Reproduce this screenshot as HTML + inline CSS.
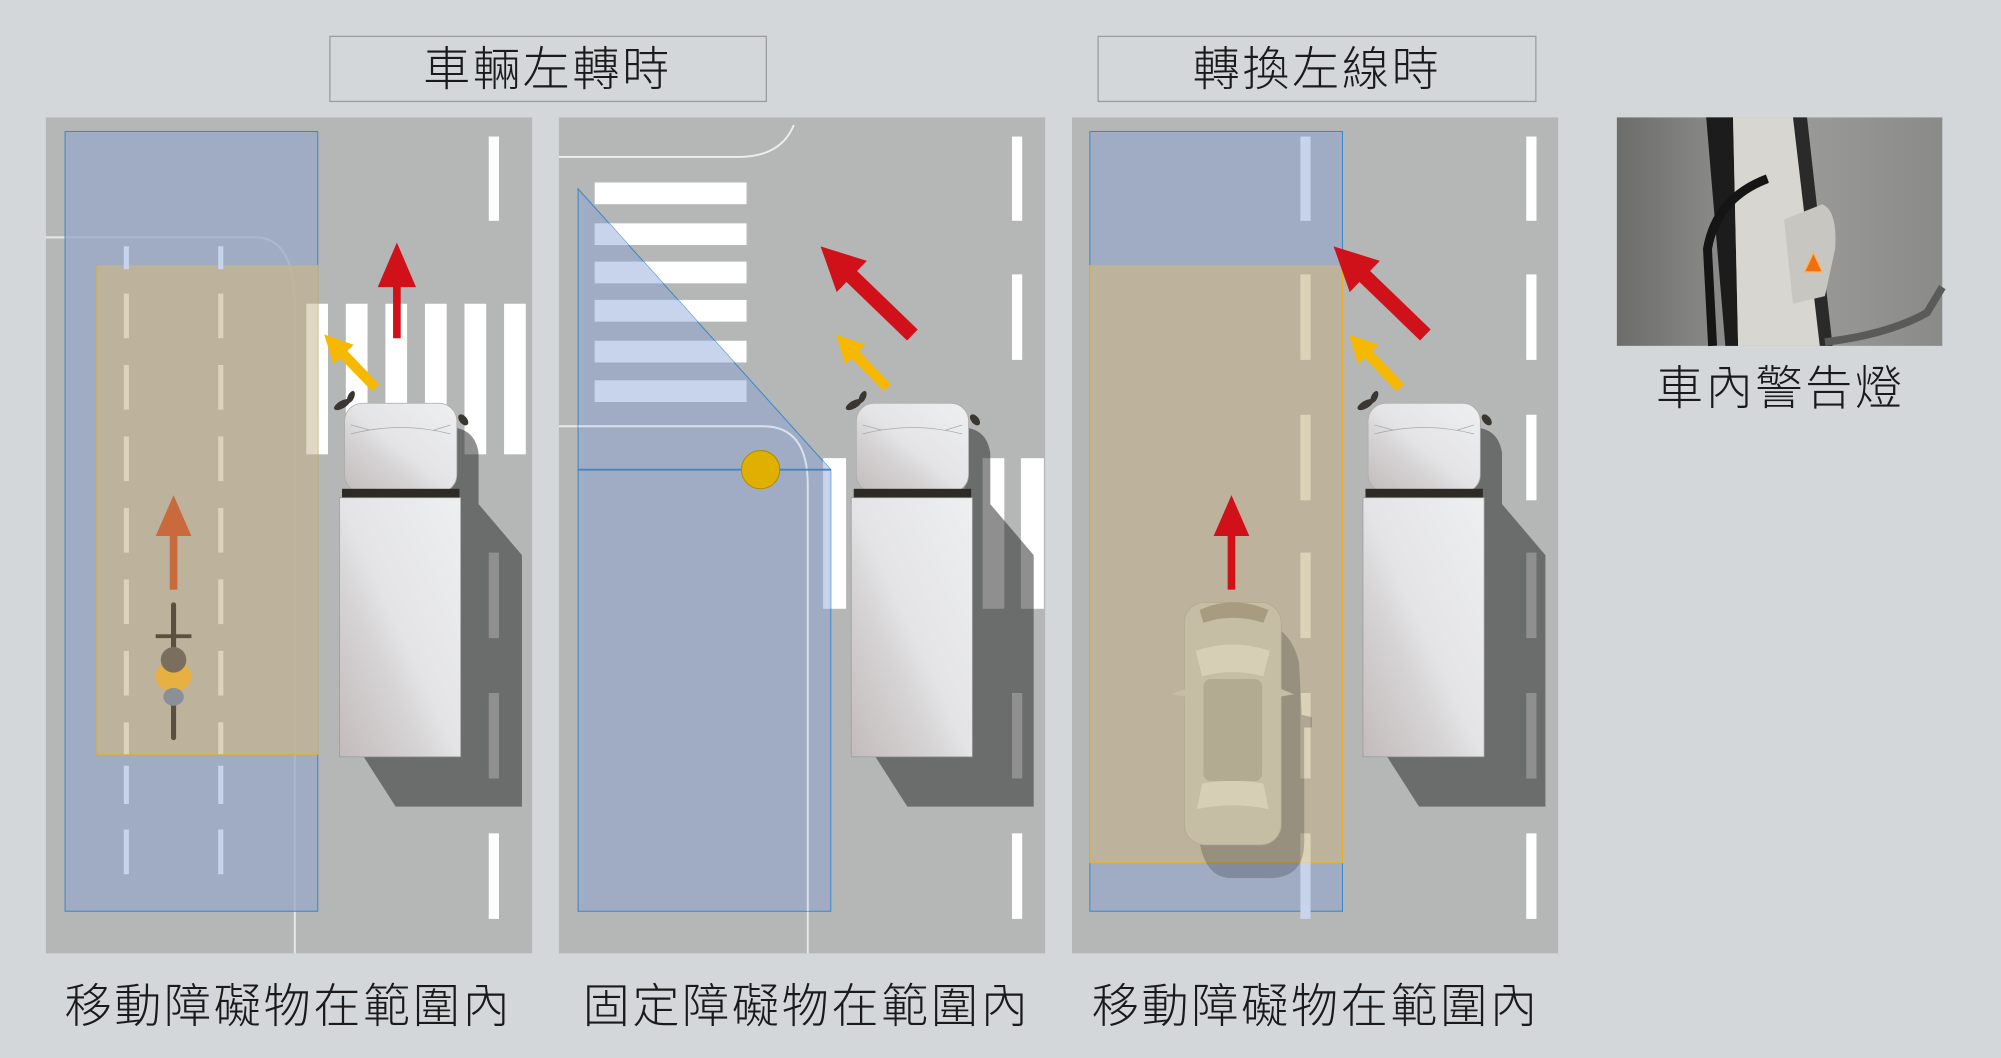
<!DOCTYPE html>
<html><head><meta charset="utf-8"><style>
html,body{margin:0;padding:0;background:#d3d7da;}
svg{display:block;}
text{font-family:"Liberation Sans","Noto Sans CJK TC","Noto Sans CJK SC",sans-serif;fill:#1a1a1a;font-size:37px;font-weight:300;}
</style></head><body>
<svg width="2001" height="1058" viewBox="0 0 1568 829" preserveAspectRatio="none" xmlns="http://www.w3.org/2000/svg">
<defs>
<linearGradient id="tg" x1="0" y1="1" x2="1" y2="0">
<stop offset="0" stop-color="#c3bbbb"/><stop offset="0.35" stop-color="#d6d4d5"/><stop offset="0.5" stop-color="#e4e4e6"/><stop offset="1" stop-color="#eeeff0"/></linearGradient>
<linearGradient id="ph" x1="0" y1="0" x2="1" y2="0">
<stop offset="0" stop-color="#6c6d6b"/><stop offset="0.5" stop-color="#9c9d9a"/><stop offset="1" stop-color="#8a8b88"/></linearGradient>
<g id="truck">
<path d="M352,335 Q372,335 375,355 L375,395 L409,435 L409,632 L310,632 L285,593 L361,593 L361,390 L352,390 Z" fill="#282828" fill-opacity="0.52"/>
<ellipse cx="268" cy="317" rx="7" ry="3" transform="rotate(-30 268 317)" fill="#3a3632"/>
<ellipse cx="275" cy="311" rx="2.5" ry="5" transform="rotate(25 275 311)" fill="#3a3632"/>
<ellipse cx="363" cy="329" rx="3" ry="5" transform="rotate(-40 363 329)" fill="#3a3632"/>
<rect x="270" y="316" width="88" height="70" rx="14" fill="url(#tg)" stroke="#aaa" stroke-width="0.6"/>
<path d="M275,340 Q314,330 353,340 M275,333 L290,337 M353,333 L340,337" stroke="#aaa" stroke-width="0.6" fill="none"/>
<rect x="268" y="383" width="92" height="8" fill="#2e2b27"/>
<rect x="266" y="390" width="95" height="203" fill="url(#tg)" stroke="#999" stroke-width="0.6"/>
</g>
</defs>
<rect width="1568" height="829" fill="#d3d7da"/>
<rect x="258.5" y="28.5" width="342" height="51" fill="#d3d7da" stroke="#9a9c9e"/>
<text x="429" y="67" text-anchor="middle" letter-spacing="2">車輛左轉時</text>
<rect x="860.5" y="28.5" width="343" height="51" fill="#d3d7da" stroke="#9a9c9e"/>
<text x="1032" y="67" text-anchor="middle" letter-spacing="2">轉換左線時</text>

<!-- PANEL 1 -->
<rect x="36" y="92" width="381" height="655" fill="#b5b7b6"/>
<g fill="#fff">
<rect x="383" y="107" width="8" height="66"/>
<rect x="383" y="433" width="8" height="67"/><rect x="383" y="543" width="8" height="67"/><rect x="383" y="653" width="8" height="67"/>
<rect x="240" y="238" width="17" height="118"/><rect x="271" y="238" width="17" height="118"/><rect x="302" y="238" width="17" height="118"/>
<rect x="333" y="238" width="17" height="118"/><rect x="364" y="238" width="17" height="118"/><rect x="395" y="238" width="17" height="118"/>
</g>
<path d="M36,186 L200,186 Q231,186 231,240 L231,747" stroke="#e8e8e8" stroke-width="1.5" fill="none"/>
<rect x="51" y="103" width="198" height="611" fill="#98a8c8" fill-opacity="0.75" stroke="#3b87c8" stroke-width="0.8"/>
<rect x="76" y="208" width="173" height="383" fill="#c4b594" fill-opacity="0.8" stroke="#e8b020" stroke-width="0.8"/>
<g fill="#ddd3bb">
<rect x="97" y="193" width="4" height="18" fill="#c8d4ec"/><rect x="171" y="193" width="4" height="18" fill="#c8d4ec"/>
<rect x="97" y="230" width="4" height="35"/><rect x="171" y="230" width="4" height="35"/>
<rect x="97" y="286" width="4" height="35"/><rect x="171" y="286" width="4" height="35"/>
<rect x="97" y="342" width="4" height="35"/><rect x="171" y="342" width="4" height="35"/>
<rect x="97" y="398" width="4" height="35"/><rect x="171" y="398" width="4" height="35"/>
<rect x="97" y="454" width="4" height="35"/><rect x="171" y="454" width="4" height="35"/>
<rect x="97" y="510" width="4" height="35"/><rect x="171" y="510" width="4" height="35"/>
<rect x="97" y="566" width="4" height="25"/><rect x="171" y="566" width="4" height="25"/>
<rect x="97" y="600" width="4" height="30" fill="#c8d4ec"/><rect x="171" y="600" width="4" height="30" fill="#c8d4ec"/>
<rect x="97" y="650" width="4" height="35" fill="#c8d4ec"/><rect x="171" y="650" width="4" height="35" fill="#c8d4ec"/>
</g>
<rect x="240" y="238" width="9" height="118" fill="#e0d8c4"/>
<use href="#truck"/>
<polygon points="311,190 326,225 314,225 314,265 308,265 308,225 296,225" fill="#d0111a"/>
<polygon points="0,0 11,22 4,22 4,58 -4,58 -4,22 -11,22" transform="translate(254,262) rotate(-44)" fill="#f6b800"/>
<polygon points="136,388 150,420 139,420 139,462 133,462 133,420 122,420" fill="#c96a3c"/>
<rect x="134" y="472" width="4" height="108" rx="2" fill="#5a5040"/>
<rect x="122" y="497" width="28" height="3" fill="#5a5040"/>
<ellipse cx="136" cy="530" rx="14" ry="12" fill="#e8b040"/>
<ellipse cx="136" cy="546" rx="8" ry="7" fill="#8a8f98"/>
<circle cx="136" cy="517" r="10" fill="#7a6e5e"/>

<!-- PANEL 2 -->
<rect x="438" y="92" width="381" height="655" fill="#b5b7b6"/>
<g fill="#fff">
<rect x="793" y="107" width="8" height="66"/><rect x="793" y="215" width="8" height="67"/>
<rect x="793" y="543" width="8" height="67"/><rect x="793" y="653" width="8" height="67"/>
<rect x="645" y="359" width="18" height="118"/><rect x="676" y="359" width="18" height="118"/><rect x="707" y="359" width="18" height="118"/>
<rect x="738" y="359" width="18" height="118"/><rect x="770" y="359" width="17" height="118"/><rect x="800" y="359" width="18" height="118"/>
<rect x="466" y="143" width="119" height="17"/><rect x="466" y="175" width="119" height="17"/><rect x="466" y="205" width="119" height="17"/>
<rect x="466" y="235" width="119" height="17"/><rect x="466" y="267" width="119" height="17"/><rect x="466" y="298" width="119" height="17"/>
</g>
<path d="M438,123 L578,123 Q612,123 622,98" stroke="#eee" stroke-width="1.5" fill="none"/>
<path d="M438,334 L598,334 Q633,334 633,380 L633,747" stroke="#e8e8e8" stroke-width="1.5" fill="none"/>
<polygon points="453,148 651,368 651,714 453,714" fill="#98a8c8" fill-opacity="0.75" stroke="#3b87c8" stroke-width="0.8"/>
<clipPath id="tri"><polygon points="453,148 651,368 651,714 453,714"/></clipPath>
<g clip-path="url(#tri)" fill="#c8d4ec">
<rect x="466" y="143" width="119" height="17"/><rect x="466" y="175" width="119" height="17"/><rect x="466" y="205" width="119" height="17"/>
<rect x="466" y="235" width="119" height="17"/><rect x="466" y="267" width="119" height="17"/><rect x="466" y="298" width="119" height="17"/>
<rect x="645" y="359" width="18" height="118"/>
<path d="M438,334 L598,334 Q633,334 633,380 L633,747" stroke="#d8e0f0" stroke-width="1.5" fill="none"/>
</g>
<line x1="453" y1="368" x2="651" y2="368" stroke="#3b87c8" stroke-width="1.5"/>
<circle cx="596" cy="368" r="15" fill="#e0b000" stroke="#b08a00" stroke-width="0.8"/>
<use href="#truck" transform="translate(401,0)"/>
<polygon points="0,0 17,34 6,34 6,100 -6,100 -6,34 -17,34" transform="translate(643,193) rotate(-46)" fill="#d0111a"/>
<polygon points="0,0 11,22 4,22 4,58 -4,58 -4,22 -11,22" transform="translate(655,262) rotate(-44)" fill="#f6b800"/>

<!-- PANEL 3 -->
<rect x="840" y="92" width="381" height="655" fill="#b5b7b6"/>
<g fill="#fff">
<rect x="1196" y="107" width="8" height="66"/><rect x="1196" y="215" width="8" height="67"/><rect x="1196" y="325" width="8" height="67"/>
<rect x="1196" y="433" width="8" height="67"/><rect x="1196" y="543" width="8" height="67"/><rect x="1196" y="653" width="8" height="67"/>
</g>
<rect x="854" y="103" width="198" height="611" fill="#98a8c8" fill-opacity="0.75" stroke="#3b87c8" stroke-width="0.8"/>
<rect x="854" y="208" width="198" height="468" fill="#c4b594" fill-opacity="0.8" stroke="#e8b020" stroke-width="0.8"/>
<g fill="#dcd2b8">
<rect x="1019" y="107" width="8" height="66" fill="#c8d4ec"/>
<rect x="1019" y="215" width="8" height="67"/><rect x="1019" y="325" width="8" height="67"/>
<rect x="1019" y="433" width="8" height="67"/><rect x="1019" y="543" width="8" height="67"/><rect x="1019" y="653" width="8" height="23"/>
<rect x="1019" y="676" width="8" height="44" fill="#c8d4ec"/>
</g>
<path d="M960,485 Q1010,480 1018,520 L1020,560 L1028,562 L1028,570 L1022,570 L1022,660 Q1022,690 990,688 L965,688 Q945,688 940,660 Z" fill="#282828" fill-opacity="0.25"/>
<rect x="928" y="472" width="76" height="190" rx="16" fill="#c6bda5" stroke="#b0a890" stroke-width="0.6"/>
<path d="M940,478 Q966,466 994,478 L990,488 Q966,480 943,488 Z" fill="#a89c80"/>
<path d="M937,510 Q966,500 995,510 L990,530 Q966,523 942,530 Z" fill="#d6cfb6"/>
<rect x="943" y="532" width="46" height="80" rx="6" fill="#b3aa92"/>
<path d="M942,614 Q966,610 990,614 L994,634 Q966,628 938,634 Z" fill="#d6cfb6"/>
<path d="M928,540 L918,544 L930,546 Z M1004,540 L1014,544 L1002,546 Z" fill="#c6bda5"/>
<polygon points="965,388 979,420 968,420 968,462 962,462 962,420 951,420" fill="#d0111a"/>
<use href="#truck" transform="translate(802,0)"/>
<polygon points="0,0 17,34 6,34 6,100 -6,100 -6,34 -17,34" transform="translate(1045,193) rotate(-46)" fill="#d0111a"/>
<polygon points="0,0 11,22 4,22 4,58 -4,58 -4,22 -11,22" transform="translate(1057,262) rotate(-44)" fill="#f6b800"/>

<!-- photo -->
<rect x="1267" y="92" width="255" height="179" fill="url(#ph)"/>
<polygon points="1337,92 1358,92 1362,271 1352,271" fill="#1c1c1c"/>
<polygon points="1358,92 1410,92 1430,271 1362,271" fill="#d8d6d0"/>
<polygon points="1405,92 1416,92 1436,271 1426,271" fill="#2a2a2a"/>
<path d="M1385,140 Q1345,155 1338,195 L1342,271" stroke="#151515" stroke-width="7" fill="none"/>
<path d="M1384,145 L1395,135 L1402,150 Z" fill="#d8d6d0"/>
<path d="M1398,172 L1428,160 Q1440,165 1438,195 L1430,232 L1405,238 Z" fill="#c8c6c0"/>
<polygon points="1421,198 1428,213 1414,213" fill="#f07010" stroke="#ffb060" stroke-width="1"/>
<path d="M1430,268 Q1480,262 1510,245 L1522,225" stroke="#5a5a58" stroke-width="6" fill="none"/>
<text x="1395" y="317" text-anchor="middle" letter-spacing="2">車內警告燈</text>

<text x="226" y="801" text-anchor="middle" letter-spacing="2">移動障礙物在範圍內</text>
<text x="632" y="801" text-anchor="middle" letter-spacing="2">固定障礙物在範圍內</text>
<text x="1031" y="801" text-anchor="middle" letter-spacing="2">移動障礙物在範圍內</text>
</svg>
</body></html>
